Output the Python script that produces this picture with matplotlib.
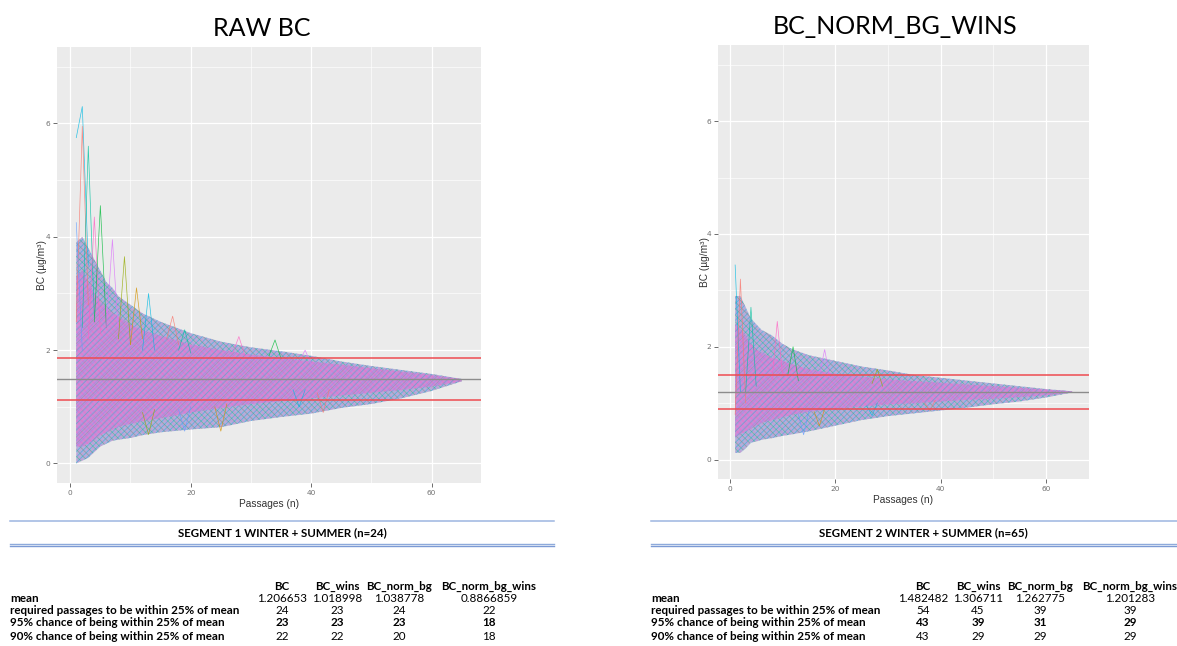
import numpy as np
import matplotlib.pyplot as plt
from matplotlib.colors import to_rgba

W, H = 1177, 646

# ---- values ----
# left panel: RAW BC (running means over passages)
passes_l = [1, 2, 3, 4, 5, 6, 7, 8, 10, 12, 15, 20, 25, 30, 35, 40, 45, 50, 55, 60, 65]
outer_hi_l = [3.9, 4.0, 3.8, 3.6, 3.4, 3.2, 3.1, 2.95, 2.8, 2.65, 2.5, 2.3, 2.15, 2.05, 1.98, 1.9, 1.8, 1.72, 1.65, 1.58, 1.49]
outer_lo_l = [0.0, 0.05, 0.1, 0.2, 0.3, 0.35, 0.4, 0.42, 0.45, 0.5, 0.55, 0.6, 0.64, 0.75, 0.82, 0.88, 0.98, 1.05, 1.15, 1.28, 1.45]
core_hi_l = [3.3, 3.4, 3.2, 3.0, 2.85, 2.75, 2.65, 2.6, 2.45, 2.35, 2.25, 2.1, 2.0, 1.92, 1.86, 1.8, 1.74, 1.68, 1.62, 1.56, 1.49]
core_lo_l = [0.3, 0.3, 0.35, 0.42, 0.5, 0.55, 0.6, 0.65, 0.7, 0.75, 0.8, 0.9, 0.98, 1.05, 1.1, 1.15, 1.2, 1.25, 1.3, 1.36, 1.45]
spike_n_l = [[1, 2, 3], [1, 2, 3], [2, 3, 4], [3, 4, 5], [4, 5, 6], [6, 7, 8], [8, 9, 10], [1, 2],
             [10, 11, 12], [12, 13, 14], [16, 17, 18], [18, 19, 20], [27, 28, 29], [33, 34, 35],
             [38, 39, 40], [12, 13, 14], [18, 19, 20], [24, 25, 26], [37, 38, 39], [41, 42, 43]]
spike_v_l = [[5.75, 6.3, 3.5], [2.5, 5.95, 2.8], [2.4, 5.6, 2.6], [2.2, 4.35, 2.3], [2.5, 4.55, 2.4],
             [2.4, 3.95, 2.3], [2.2, 3.65, 2.1], [4.25, 2.0], [2.1, 3.1, 2.2], [2.0, 3.0, 2.0],
             [2.2, 2.6, 2.1], [2.0, 2.36, 1.95], [1.95, 2.24, 1.9], [1.9, 2.18, 1.85],
             [1.8, 2.0, 1.75], [0.9, 0.51, 0.95], [0.95, 0.57, 1.0], [1.0, 0.57, 1.05],
             [1.3, 1.0, 1.3], [1.25, 0.9, 1.3]]
mean_l = 1.482482

# right panel: BC_NORM_BG_WINS
passes_r = [1, 2, 3, 4, 5, 6, 8, 10, 12, 15, 20, 25, 30, 35, 40, 45, 50, 55, 60, 65]
outer_hi_r = [2.9, 2.9, 2.7, 2.5, 2.4, 2.3, 2.2, 2.05, 1.95, 1.85, 1.75, 1.65, 1.58, 1.5, 1.45, 1.4, 1.35, 1.3, 1.25, 1.21]
outer_lo_r = [0.12, 0.12, 0.2, 0.3, 0.32, 0.35, 0.38, 0.42, 0.45, 0.5, 0.6, 0.7, 0.77, 0.82, 0.87, 0.92, 0.98, 1.03, 1.1, 1.19]
core_hi_r = [2.4, 2.3, 2.2, 2.05, 1.95, 1.9, 1.8, 1.75, 1.68, 1.6, 1.52, 1.47, 1.42, 1.39, 1.36, 1.33, 1.3, 1.27, 1.24, 1.21]
core_lo_r = [0.4, 0.45, 0.5, 0.55, 0.6, 0.65, 0.7, 0.75, 0.8, 0.85, 0.9, 0.94, 0.98, 1.0, 1.03, 1.06, 1.08, 1.11, 1.14, 1.19]
spike_n_r = [[1, 2], [1, 2, 3], [3, 4, 5], [8, 9, 10], [11, 12, 13], [17, 18, 19], [27, 28, 29],
             [13, 14, 15], [16, 17, 18], [26, 27, 28], [37, 38, 39]]
spike_v_r = [[3.45, 1.2], [0.8, 3.2, 1.0], [1.2, 2.7, 1.3], [1.4, 2.45, 1.5], [1.5, 2.0, 1.4],
             [1.5, 1.95, 1.45], [1.35, 1.6, 1.3], [0.8, 0.44, 0.85], [0.85, 0.6, 0.9],
             [0.95, 0.78, 1.0], [1.0, 0.87, 1.05]]
mean_r = 1.201283

# ---- tables ----
row_labels = ['mean', 'required passages to be within 25% of mean',
              '95% chance of being within 25% of mean', '90% chance of being within 25% of mean']
col_labels = ['BC', 'BC_wins', 'BC_norm_bg', 'BC_norm_bg_wins']
seg1_title = 'SEGMENT 1 WINTER + SUMMER (n=24)'
seg1_vals = [['1.206653', '1.018998', '1.038778', '0.8866859'],
             ['24', '23', '24', '22'],
             ['23', '23', '23', '18'],
             ['22', '22', '20', '18']]
seg2_title = 'SEGMENT 2 WINTER + SUMMER (n=65)'
seg2_vals = [['1.482482', '1.306711', '1.262775', '1.201283'],
             ['54', '45', '39', '39'],
             ['43', '39', '31', '29'],
             ['43', '29', '29', '29']]

hue = ['#F8766D', '#D39200', '#93AA00', '#00BA38', '#00C19F', '#00B9E3', '#619CFF', '#DB72FB', '#FF61C3']

plt.rcParams['hatch.linewidth'] = 0.55


def px(x, y):
    return x / W, 1 - y / H


def panel(rect, n, ohi, olo, chi, clo, sn, sv, mean):
    ax = fig.add_axes(rect)
    ax.set_facecolor('#EBEBEB')
    for s in ax.spines.values():
        s.set_visible(False)
    ax.set_xlim(-2.2, 68.2)
    ax.set_ylim(-0.35, 7.35)
    ax.set_xticks([0, 20, 40, 60])
    ax.set_yticks([0, 2, 4, 6])
    ax.set_xticks([10, 30, 50], minor=True)
    ax.set_yticks([1, 3, 5, 7], minor=True)
    ax.grid(True, which='major', color='white', lw=0.9)
    ax.grid(True, which='minor', color='white', lw=0.45)
    ax.set_axisbelow(True)
    ax.tick_params(which='major', length=3, width=0.6, color='#555555',
                   labelsize=5.3, labelcolor='#707070', pad=2)
    ax.tick_params(which='minor', length=0)

    n = np.array(n)
    xs = np.concatenate([n, n[::-1]])
    # outer spread of the running means
    yo = np.concatenate([ohi, olo[::-1]])
    ax.fill(xs, yo, facecolor='#B4ADDA', edgecolor='none', lw=0, zorder=2)
    for hatch, c, a in [('//////', '#00B9E3', 0.55), ('\\\\\\\\\\', '#00BA38', 0.35),
                        ('\\\\\\\\\\\\', '#FF61C3', 0.3)]:
        ax.fill(xs, yo, facecolor='none', edgecolor=to_rgba(c, a), hatch=hatch, lw=0, zorder=2)
    # dense core
    yc = np.concatenate([chi, clo[::-1]])
    ax.fill(xs, yc, facecolor='#CB8CD6', edgecolor='none', lw=0, zorder=3)
    for hatch, c, a in [('\\\\\\\\\\\\', '#FF61C3', 0.6), ('//////', '#619CFF', 0.4),
                        ('/////', '#00C19F', 0.3)]:
        ax.fill(xs, yc, facecolor='none', edgecolor=to_rgba(c, a), hatch=hatch, lw=0, zorder=3)

    for i, (xx, yy) in enumerate(zip(sn, sv)):
        ax.plot(xx, yy, color=hue[(i * 4 + 5) % len(hue)], lw=0.5, alpha=0.8, zorder=4)

    ax.axhline(mean, color='#8C8C8C', lw=1.0, zorder=5)
    ax.axhline(mean * 1.25, color='#EE4B50', lw=1.1, zorder=5)
    ax.axhline(mean * 0.75, color='#EE4B50', lw=1.1, zorder=5)
    return ax


fig = plt.figure(figsize=(W / 100, H / 100), dpi=100)

axl = panel([57 / W, 1 - 483.3 / H, 424 / W, 436.3 / H], passes_l,
            np.array(outer_hi_l), np.array(outer_lo_l), np.array(core_hi_l), np.array(core_lo_l),
            spike_n_l, spike_v_l, mean_l)
axr = panel([718.3 / W, 1 - 479.3 / H, 370.7 / W, 434.3 / H], passes_r,
            np.array(outer_hi_r), np.array(outer_lo_r), np.array(core_hi_r), np.array(core_lo_r),
            spike_n_r, spike_v_r, mean_r)

axis_font = dict(family='Liberation Sans', size=7.3, color='#333333')
fig.text(*px(42, 265), 'BC (µg/m³)', rotation=90, ha='center', va='center', **axis_font)
fig.text(*px(269, 504), 'Passages (n)', ha='center', va='center', **axis_font)
fig.text(*px(705, 262), 'BC (µg/m³)', rotation=90, ha='center', va='center', **axis_font)
fig.text(*px(903, 500), 'Passages (n)', ha='center', va='center', **axis_font)

fig.text(*px(262, 28), 'RAW BC', ha='center', va='center', family='Lato', size=18)
fig.text(*px(895, 27), 'BC_NORM_BG_WINS', ha='center', va='center', family='Lato', size=18)


def table(x0, x1, cols_x, title, vals):
    fig.add_artist(plt.Line2D([x0 / W, x1 / W], [1 - 520.7 / H] * 2, color='#9DB5E0', lw=1.1))
    fig.add_artist(plt.Line2D([x0 / W, x1 / W], [1 - 543.5 / H] * 2, color='#8EAADB', lw=1.0))
    fig.add_artist(plt.Line2D([x0 / W, x1 / W], [1 - 546 / H] * 2, color='#7C9AD4', lw=1.0))
    fig.text(*px((x0 + x1) / 2, 533), title, ha='center', va='center',
             family='Lato', weight='bold', size=8.3)
    rows_y = [599, 611, 623, 636]
    for cx, c in zip(cols_x, col_labels):
        fig.text(*px(cx, 586), c, ha='center', va='center', family='Lato', weight='bold', size=8.3)
    for i, (ry, lab) in enumerate(zip(rows_y, row_labels)):
        fig.text(*px(x0, ry), lab, ha='left', va='center', family='Lato', weight='bold', size=8.4)
        for cx, v in zip(cols_x, vals[i]):
            fig.text(*px(cx, ry), v, ha='center', va='center', family='Lato',
                     weight='bold' if i == 2 else 'normal', size=8.4)


table(10, 554, [282, 337, 399, 489], seg1_title, seg1_vals)
table(651, 1195, [923, 978, 1040, 1130], seg2_title, seg2_vals)

fig.savefig('out.png', dpi=100)
